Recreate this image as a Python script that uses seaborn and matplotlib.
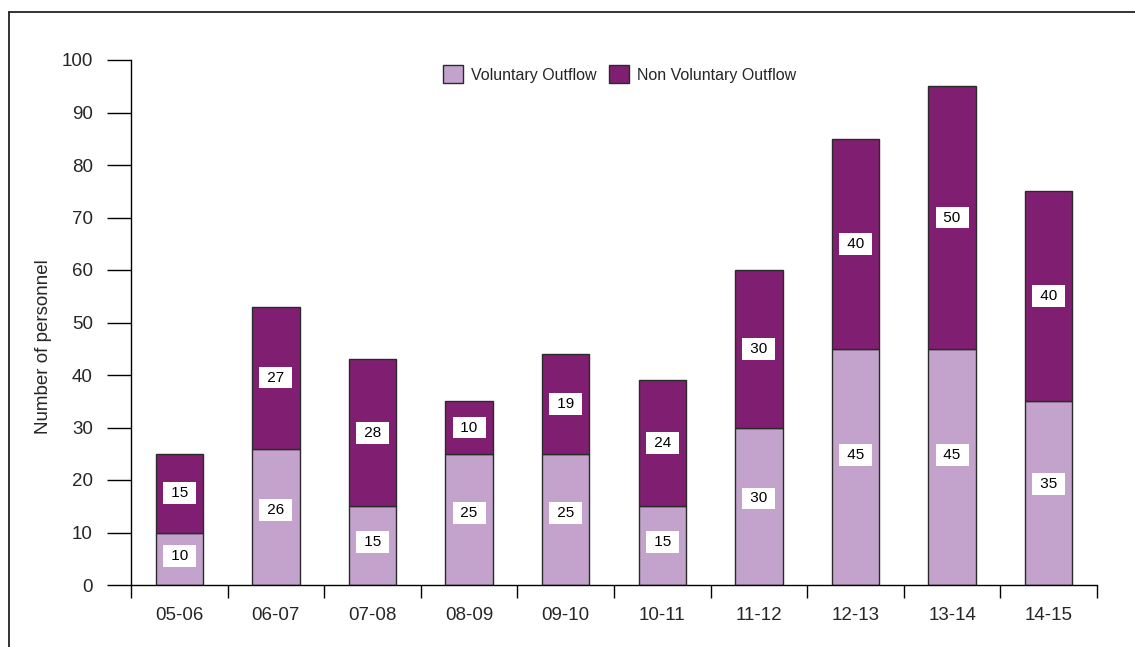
import matplotlib
matplotlib.use("Agg")
import matplotlib.pyplot as plt
import seaborn as sns
import numpy as np
from matplotlib.patches import Patch
from matplotlib.lines import Line2D

# data
periods = ['05-06', '06-07', '07-08', '08-09', '09-10', '10-11', '11-12', '12-13', '13-14', '14-15']
voluntary = [10, 26, 15, 25, 25, 15, 30, 45, 45, 35]
non_voluntary = [15, 27, 28, 10, 19, 24, 30, 40, 50, 40]
y_ticks = [0, 10, 20, 30, 40, 50, 60, 70, 80, 90, 100]

light = '#c3a3cc'
dark = '#801f72'
edge = '#2a2a2a'

sns.set_style('white')
plt.rcParams['font.family'] = ['Liberation Sans', 'DejaVu Sans']

fig = plt.figure(figsize=(11.35, 6.47), dpi=100)
ax = fig.add_axes([131 / 1135, 1 - 585 / 647, 966 / 1135, 525 / 647])

sns.barplot(x=periods, y=voluntary, color=light, width=0.49,
            edgecolor=edge, linewidth=1, saturation=1, ax=ax)
sns.barplot(x=periods, y=non_voluntary, bottom=voluntary, color=dark, width=0.49,
            edgecolor=edge, linewidth=1, saturation=1, ax=ax)

# value boxes inside each segment
for i, (v, n) in enumerate(zip(voluntary, non_voluntary)):
    for val, mid in [(v, v * 0.55), (n, v + n / 2)]:
        ax.text(i, mid, f' {val} ', ha='center', va='center', fontsize=11,
                color='black',
                bbox=dict(boxstyle='square,pad=0.25', fc='white', ec='none'))

ax.set_xlim(-0.5, len(periods) - 0.5)
ax.set_ylim(0, 100)
ax.set_yticks(y_ticks)
ax.tick_params(axis='y', direction='out', length=17.5, width=1, pad=10,
               labelsize=13.5, left=True, color='black')
ax.set_xticks(range(len(periods)), labels=periods)
ax.set_xticks(np.arange(-0.5, len(periods)), minor=True)
ax.tick_params(axis='x', which='major', length=0, pad=16, labelsize=13.5)
ax.tick_params(axis='x', which='minor', direction='out', length=9, width=1,
               bottom=True, color='black')
ax.set_xlabel('')
ax.set_ylabel('Number of personnel', fontsize=13.5)
ax.yaxis.set_label_coords(-0.082, 0.455)

for s in ['top', 'right']:
    ax.spines[s].set_visible(False)
for s in ['left', 'bottom']:
    ax.spines[s].set_color('black')
    ax.spines[s].set_linewidth(1)

handles = [Patch(fc=light, ec=edge, lw=1, label='Voluntary Outflow'),
           Patch(fc=dark, ec=edge, lw=1, label='Non Voluntary Outflow')]
ax.legend(handles=handles, loc='center', bbox_to_anchor=(0.506, 0.973), ncol=2,
          frameon=False, fontsize=11.5, handlelength=1.25, handleheight=1.35,
          handletextpad=0.5, columnspacing=0.8)

# outer frame (left and top edges only)
fig.add_artist(Line2D([9 / 1135, 9 / 1135], [0, 1 - 12 / 647], color='#222222', lw=1.3,
                      transform=fig.transFigure))
fig.add_artist(Line2D([9 / 1135, 1], [1 - 12 / 647, 1 - 12 / 647], color='#222222', lw=1.3,
                      transform=fig.transFigure))

fig.savefig('out.png', dpi=100)
